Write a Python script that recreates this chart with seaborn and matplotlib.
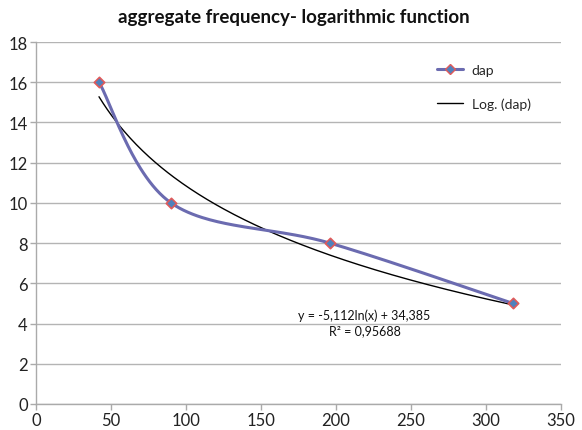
import numpy as np
import pandas as pd
import matplotlib
matplotlib.use("Agg")
import matplotlib.pyplot as plt
from matplotlib.lines import Line2D
import seaborn as sns

# measured data
dap_x = [42, 90, 196, 318]
dap_y = [16, 10, 8, 5]

# logarithmic trendline coefficients (y = a*ln(x) + b)
trend_a = -5.112
trend_b = 34.385
trend_r2 = "0,95688"

x_ticks = [0, 50, 100, 150, 200, 250, 300, 350]
y_ticks = [0, 2, 4, 6, 8, 10, 12, 14, 16, 18]

sns.set_theme(style="white")
plt.rcParams["font.family"] = ["Lato", "DejaVu Sans"]


def smooth_curve(xs, ys, n=60):
    """Bezier smoothing through every point (spreadsheet-style smoothed line)."""
    p = np.column_stack([xs, ys]).astype(float)
    p = np.vstack([p[0], p, p[-1]])
    out = []
    t = np.linspace(0, 1, n)[:, None]
    for i in range(1, len(p) - 2):
        p0, p3 = p[i], p[i + 1]
        p1 = p0 + (p[i + 1] - p[i - 1]) / 6.0
        p2 = p3 - (p[i + 2] - p[i]) / 6.0
        seg = ((1 - t) ** 3) * p0 + 3 * ((1 - t) ** 2) * t * p1 + 3 * (1 - t) * t ** 2 * p2 + t ** 3 * p3
        out.append(seg)
    return np.vstack(out)


curve = smooth_curve(dap_x, dap_y)
curve_df = pd.DataFrame({"x": curve[:, 0], "y": curve[:, 1]})
pts_df = pd.DataFrame({"x": dap_x, "y": dap_y})
tx = np.linspace(min(dap_x), max(dap_x), 200)
trend_df = pd.DataFrame({"x": tx, "y": trend_a * np.log(tx) + trend_b})

fig = plt.figure(figsize=(5.82, 4.31), dpi=100)
ax = fig.add_axes([36 / 582, 1 - 405 / 431, (561 - 36) / 582, (405 - 43) / 431])

line_col = "#6b6bb0"
sns.lineplot(data=trend_df, x="x", y="y", ax=ax, color="black", lw=1.0, zorder=3)
sns.lineplot(data=curve_df, x="x", y="y", ax=ax, color=line_col, lw=2.2, zorder=4, sort=False)
sns.scatterplot(data=pts_df, x="x", y="y", ax=ax, marker="D", s=28, color="#4f81bd",
                edgecolor="#e05a5a", linewidth=1.2, zorder=5)

ax.set_xlim(0, 350)
ax.set_ylim(0, 18)
ax.set_xticks(x_ticks)
ax.set_yticks(y_ticks)
ax.set_xlabel("")
ax.set_ylabel("")
ax.tick_params(axis="both", labelsize=12, colors="#222222", length=4, width=1, direction="out",
               left=True, bottom=True, pad=2)
ax.tick_params(axis="both", color="#aaaaaa")
ax.yaxis.grid(True, color="#b4b4b4", lw=1)
ax.xaxis.grid(False)
for s in ["top", "right"]:
    ax.spines[s].set_visible(False)
for s in ["left", "bottom"]:
    ax.spines[s].set_color("#aaaaaa")
    ax.spines[s].set_linewidth(1)

fig.text(294 / 582, 1 - 18 / 431, "aggregate frequency- logarithmic function",
         ha="center", va="center", fontsize=13.5, fontweight="bold", color="#111111")

# legend
handles = [
    Line2D([], [], color=line_col, lw=2.2, marker="D", markersize=5,
           markerfacecolor="#4f81bd", markeredgecolor="#e05a5a"),
    Line2D([], [], color="black", lw=1.0),
]
ax.legend(handles, ["dap", "Log. (dap)"], loc="upper left", bbox_to_anchor=(0.74, 0.975),
          frameon=False, fontsize=10, handlelength=1.9, handletextpad=0.6, labelspacing=1.6)

eq = f"y = {str(trend_a).replace('.', ',')}ln(x) + {str(trend_b).replace('.', ',')}"
ax.text(219, 4.43, eq, ha="center", va="center", fontsize=9, color="#111111")
ax.text(219, 3.68, "R² = " + trend_r2, ha="center", va="center", fontsize=9, color="#111111")

fig.savefig("out.png", dpi=100)
